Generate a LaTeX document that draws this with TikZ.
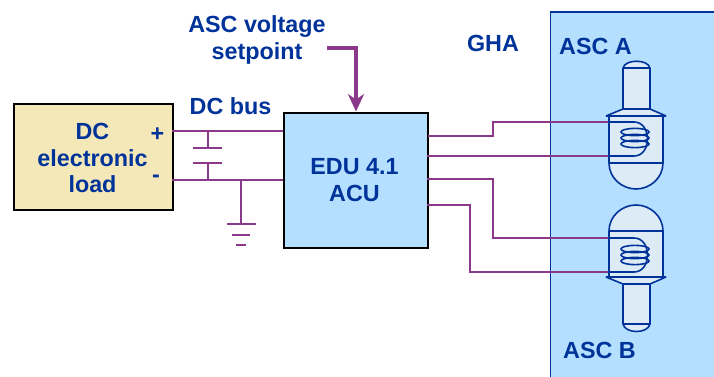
\documentclass[tikz,border=0pt]{standalone}
\usepackage{fontspec}
\setmainfont{Liberation Sans}
\usetikzlibrary{arrows.meta}
\definecolor{txtblue}{HTML}{003399}
\definecolor{wirec}{HTML}{8B3A8B}
\definecolor{lblue}{HTML}{B5DFFF}
\definecolor{bulbfill}{HTML}{DDEBF7}
\definecolor{tan}{HTML}{F5E8B8}
\tikzset{
  x=0.75pt,y=-0.75pt,
  lbl/.style={font=\bfseries\fontsize{17.5}{20}\selectfont,text=txtblue,align=center,inner sep=0pt},
  blockbox/.style={draw=black,line width=1.5pt,inner sep=0pt,anchor=north west},
  wire/.style={draw=wirec,line width=1.6pt},
  bulb/.style={draw=txtblue,line width=1.2pt,fill=bulbfill,miter limit=1},
  bline/.style={draw=txtblue,line width=1.2pt},
}
\begin{document}
\begin{tikzpicture}
\useasboundingbox (0,0) rectangle (714,377);
% GHA panel
\node[anchor=north west,draw=txtblue,line width=1pt,fill=lblue,minimum width=180*0.75pt,minimum height=380*0.75pt,inner sep=0pt] (gha) at (550,11.5) {};
% blocks
\node[blockbox,fill=tan,minimum width=159*0.75pt,minimum height=106*0.75pt] (load) at (13,103) {};
\node[blockbox,fill=lblue,minimum width=144*0.75pt,minimum height=135*0.75pt] (acu) at (283,112) {};
% free ends
\coordinate (p1) at (172,131); \coordinate (p2) at (283,131);
\coordinate (m1) at (172,180); \coordinate (m2) at (283,180);
\coordinate (c1) at (208,131); \coordinate (c2) at (208,148);
\coordinate (c3) at (208,163); \coordinate (c4) at (208,180);
\coordinate (g1) at (241,180); \coordinate (g2) at (241,224);
% bus
\draw[wire] (p1) -- (p2);
\draw[wire] (m1) -- (m2);
\draw[wire] (c1) -- (c2);
\draw[wire] (c3) -- (c4);
\draw[wire] (193,148) -- (222,148);
\draw[wire] (193,163) -- (222,163);
\draw[wire] (g1) -- (g2);
\draw[wire] (227,224) -- (256,224);
\draw[wire] (232,235) -- (250,235);
\draw[wire] (236,245) -- (246,245);
% ACU to GHA
\draw[wire] (428,136) -- (493,136) -- (493,122) -- (610,122);
\draw[wire] (427,156) -- (610,156);
\draw[wire] (427,179) -- (493,179) -- (493,238) -- (610,238);
\draw[wire] (427,205) -- (470,205) -- (470,272) -- (610,272);
% setpoint arrow
\coordinate (s) at (327,48);
\draw[draw=wirec,line width=2.6pt,-{Stealth[length=13pt,width=12pt,inset=4pt]}] (s) -- (356,48) -- (356,111.5);
% Bulb A
\draw[bulb] (623,109) -- (623,68) .. controls (625,59) and (648,59) .. (650,68) -- (650,109) -- cycle;
\draw[bline] (623,68) -- (650,68);
\draw[bulb] (623,109) -- (650,109) -- (666,116) -- (606,116) -- cycle;
\draw[bulb] (609,116) -- (663,116) -- (663,163) .. controls (663,178) and (650,189) .. (636,189) .. controls (622,189) and (609,178) .. (609,163) -- cycle;
\draw[bline] (609,163) -- (663,163);
\draw[bline] (609,122) -- (634,122) .. controls (652,122) and (652,156) .. (634,156) -- (609,156);
\foreach \yy in {132,138,144}
  \draw[bline] (635,\yy) ellipse [x radius=14,y radius=3.6];
% Bulb B
\draw[bulb] (623,284) -- (623,324) .. controls (625,334) and (648,334) .. (650,324) -- (650,284) -- cycle;
\draw[bline] (623,324) -- (650,324);
\draw[bulb] (623,284) -- (650,284) -- (666,277) -- (606,277) -- cycle;
\draw[bulb] (609,277) -- (663,277) -- (663,231) .. controls (663,216) and (650,205) .. (636,205) .. controls (622,205) and (609,216) .. (609,231) -- cycle;
\draw[bline] (609,231) -- (663,231);
\draw[bline] (609,238) -- (634,238) .. controls (652,238) and (652,272) .. (634,272) -- (609,272);
\foreach \yy in {249,255,261}
  \draw[bline] (635,\yy) ellipse [x radius=14,y radius=3.6];
% labels
\node[lbl] (t1) at (257,40) {ASC voltage\\setpoint};
\node[lbl] (t2) at (230.5,106) {DC bus};
\node[lbl] (t3) at (92.5,158) {DC\\electronic\\load};
\node[lbl] (t4) at (157.5,134.5) {+};
\node[lbl] (t5) at (156,179) {-};
\node[lbl] (t6) at (354.5,180) {EDU 4.1\\ACU};
\node[lbl] (t7) at (493,43) {GHA};
\node[lbl] (t8) at (595.5,46) {ASC A};
\node[lbl] (t9) at (599.5,350) {ASC B};
\end{tikzpicture}
\end{document}
